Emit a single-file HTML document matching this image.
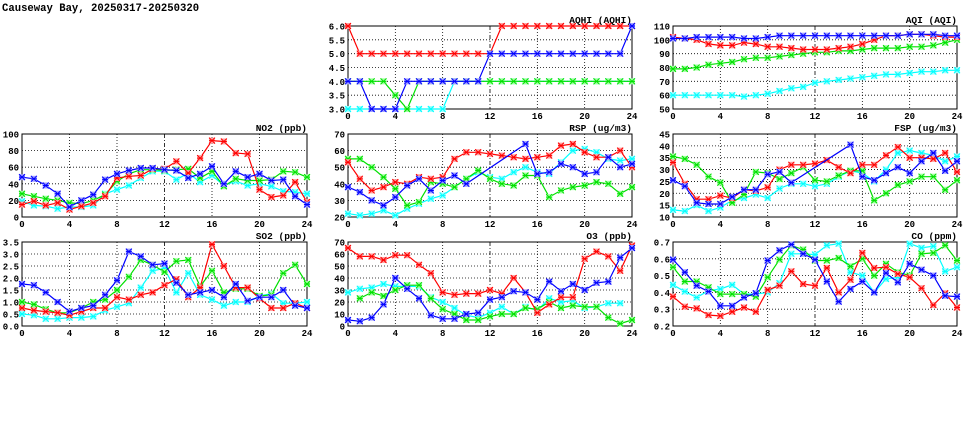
<!DOCTYPE html>
<html><head><meta charset="utf-8"><style>
body{margin:0;background:#fff;width:975px;height:447px;overflow:hidden}
svg{display:block}
text{font-family:"Liberation Mono","DejaVu Sans Mono",monospace;font-weight:bold;fill:#000}
</style></head><body>
<svg id="c" width="975" height="447" xmlns="http://www.w3.org/2000/svg">
<text x="2" y="11" font-size="10.6">Causeway Bay, 20250317-20250320</text>
</svg>
<script>
const hours = [0,1,2,3,4,5,6,7,8,9,10,11,12,13,14,15,16,17,18,19,20,21,22,23,24];
const xTicks = [0,4,8,12,16,20,24];
const seriesColors = ['#00ffff','#00e000','#ff0000','#0000ff'];
const seriesLight = ['#a0ffff','#a0ffa0','#ffa0a0','#a0a0ff'];
const seriesNames = ['cyan','green','red','blue'];

const aqhiCyan = [3,3,3,3,3,3,3,3,3,4,4,4,4,4,4,4,4,4,4,4,4,4,4,4,4];
const aqhiGreen = [4,4,4,4,3.5,3,4,4,4,4,4,4,4,4,4,4,4,4,4,4,4,4,4,4,4];
const aqhiRed = [6,5,5,5,5,5,5,5,5,5,5,5,5,6,6,6,6,6,6,6,6,6,6,6,6];
const aqhiBlue = [4,4,3,3,3,4,4,4,4,4,4,4,5,5,5,5,5,5,5,5,5,5,5,5,6];
const aqhiTicks = [3.0,3.5,4.0,4.5,5.0,5.5,6.0];

const aqiCyan = [60,60,60,60,60,60,59,60,61,63,65,66,69,70,71,72,73,74,75,75,76,77,77,78,78];
const aqiGreen = [79,79,80,82,83,84,86,87,87,88,89,90,91,91,92,92,93,94,94,94,95,95,96,98,100];
const aqiRed = [102,101,100,97,96,96,98,97,95,95,94,93,93,93,94,95,97,100,103,103,104,104,103,102,102];
const aqiBlue = [101,101,102,102,102,102,101,101,102,103,103,103,103,103,103,103,103,103,103,103,104,104,104,103,103];
const aqiTicks = [50,60,70,80,90,100,110];

const no2Cyan = [19,14,13,10,12,12,14,28,33,38,47,55,55,45,53,42,50,38,43,38,40,37,31,30,28];
const no2Green = [28,25,22,20,17,16,20,27,43,52,57,57,56,57,58,47,55,37,46,44,44,45,55,54,48];
const no2Red = [15,19,14,17,9,13,17,25,47,49,50,58,58,67,53,71,92,91,77,76,33,24,26,42,18];
const no2Blue = [48,46,38,28,12,20,27,45,52,56,59,59,57,56,47,52,61,40,55,48,52,44,45,25,15];
const no2Ticks = [0,20,40,60,80,100];

const rspCyan = [22,21,22,24,21,25,28,31,33,38,43,47,44,43,47,50,47,46,53,60,61,59,55,54,55];
const rspGreen = [55,55,50,44,37,27,29,41,40,38,43,48,43,40,39,45,45,32,36,38,39,41,40,34,38];
const rspRed = [53,43,36,38,41,40,44,43,44,55,59,59,58,57,56,55,56,57,63,64,59,56,56,60,50];
const rspBlue = [38,35,30,27,32,39,43,36,42,45,40,null,null,null,null,64,46,47,52,50,46,47,56,50,52];
const rspTicks = [20,30,40,50,60,70];

const fspCyan = [13,12.5,15,12.5,14,17,18,19.5,18,22,24,24,23,24,27,29.5,28.5,25,30,37,38,37,36,33.5,35.5];
const fspGreen = [35.5,34.5,32,27,24.5,16,19.5,29,28.5,26,28.5,31,25.5,25,27.5,29.5,29.5,17,20,23.5,25,27,27,21.5,25.5];
const fspRed = [33,24,17.5,17.5,19,18,21.5,21,22.5,30,32,32,32.5,34,31,28.5,32,32,36,39.5,35,35,34.5,37,29];
const fspBlue = [25.5,23,16,15.5,15.5,18.5,21.5,21.5,28,29,24.5,null,null,null,null,40.5,27,25.5,28.5,31,28.5,33.5,37,29.5,33.5];
const fspTicks = [10,15,20,25,30,35,40,45];

const so2Cyan = [0.5,0.45,0.3,0.3,0.35,0.35,0.4,0.65,0.8,0.95,1.6,2.3,2.4,1.4,2.2,1.3,1.1,0.85,1.0,1.0,1.25,1.35,0.95,0.95,1.0];
const so2Green = [1.0,0.9,0.7,0.55,0.55,0.75,1.0,1.1,1.5,2.05,2.75,2.55,2.25,2.7,2.75,1.65,2.3,1.4,1.55,1.55,1.25,1.3,2.2,2.55,1.75];
const so2Red = [0.75,0.65,0.6,0.55,0.45,0.6,0.75,0.75,1.2,1.1,1.3,1.4,1.7,1.95,1.2,1.6,3.4,2.5,1.6,1.6,1.15,0.75,0.75,0.95,0.75];
const so2Blue = [1.75,1.7,1.4,1.0,0.6,0.75,0.85,1.3,1.9,3.1,2.9,2.55,2.6,1.8,1.3,1.4,1.5,1.2,1.75,1.05,1.2,1.2,1.5,0.85,0.75];
const so2Ticks = [0.0,0.5,1.0,1.5,2.0,2.5,3.0,3.5];

const o3Cyan = [28,31,32,35,33,33,33,24,20,15,9,7,11,16,10,16,13,23,20,21,15,16,19,19,null];
const o3Green = [null,23,28,25,30,34,34,23,14,10,5,5,8,10,10,15,14,20,15,17,16,16,7,2,5];
const o3Red = [65,58,58,55,59,59,51,44,28,26,27,27,30,27,40,28,11,18,24,24,56,62,58,46,67];
const o3Blue = [5,4,7,18,40,31,23,9,6,6,10,11,22,24,29,28,22,37,29,35,30,36,37,57,65];
const o3Ticks = [0,10,20,30,40,50,60,70];

const coCyan = [0.445,0.405,0.37,0.41,0.42,0.445,0.39,0.39,0.40,0.455,0.63,0.63,0.625,0.68,0.69,0.52,0.50,0.40,0.48,0.49,0.69,0.665,0.675,0.525,0.55];
const coGreen = [0.55,0.465,0.465,0.43,0.39,0.39,0.39,0.375,0.49,0.595,0.68,0.655,0.59,0.59,0.605,0.555,0.60,0.50,0.57,0.52,0.50,0.63,0.635,0.68,0.59];
const coRed = [0.375,0.315,0.305,0.265,0.26,0.285,0.31,0.285,0.415,0.44,0.525,0.45,0.44,0.545,0.4,0.475,0.635,0.545,0.55,0.51,0.49,0.425,0.325,0.395,0.31];
const coBlue = [0.595,0.52,0.44,0.405,0.32,0.32,0.37,0.395,0.59,0.65,0.685,0.63,0.595,0.465,0.345,0.42,0.465,0.40,0.515,0.46,0.57,0.535,0.50,0.38,0.375];
const coTicks = [0.2,0.3,0.4,0.5,0.6,0.7];

const NS = 'http://www.w3.org/2000/svg';
const svg = document.getElementById('c');
function mk(tag, attrs, parent){
  const e = document.createElementNS(NS, tag);
  for (const k in attrs) e.setAttribute(k, attrs[k]);
  (parent||svg).appendChild(e);
  return e;
}
const cols = [[22,307],[348,632],[673,957]];
const rows = [[26,109],[134,217],[242,326]];

function panel(name, title, col, row, ticks, dec, series){
  const [x0,x1] = cols[col], [y0,y1] = rows[row];
  const ymin = ticks[0], ymax = ticks[ticks.length-1];
  const sx = v => x0 + (v-0)/(24-0)*(x1-x0);
  const sy = v => y1 - (v-ymin)/(ymax-ymin)*(y1-y0);
  const g = mk('g', {});
  
  
  ticks.forEach(t => {
    const y = sy(t);
    if (t!==ymin && t!==ymax) {
      const l = mk('line', {x1:x0,x2:x1,y1:y,y2:y,stroke:'#000','stroke-width':0.8,'stroke-dasharray':'1,2'}, g);
      
      
    }
    const tx = mk('text', {x:x0-3,y:y+3.5,'font-size':9,'text-anchor':'end'}, g);
    tx.textContent = t.toFixed(dec);
    
    
  });
  xTicks.forEach(t => {
    const x = sx(t);
    if (t!==0 && t!==24) {
      const l = mk('line', {x1:x,x2:x,y1:y0,y2:y1,stroke:'#000','stroke-width':0.8,'stroke-dasharray': t===12?'4,2,1,2':'1,2'}, g);
      
      
    }
    const tx = mk('text', {x:x,y:y1+10,'font-size':9,'text-anchor':'middle'}, g);
    tx.textContent = t;
    
    
  });
  const fr = mk('rect', {x:x0,y:y0,width:x1-x0,height:y1-y0,fill:'none',stroke:'#000','stroke-width':1}, g);
  
  
  const tt = mk('text', {x:x1,y:y0-3,'font-size':9.5,'text-anchor':'end'}, g);
  tt.textContent = title;
  
  
  series.forEach((vals, si) => {
    const pts = [];
    vals.forEach((v,i) => { if (v!==null) pts.push([sx(hours[i]), sy(v)]); });
    const pl = mk('polyline', {points: pts.map(p=>p[0].toFixed(1)+','+p[1].toFixed(1)).join(' '), fill:'none', stroke:seriesColors[si], 'stroke-width':1.2}, g);
    
    
    pts.forEach(p => {
      const [px,py] = p;
      const m = mk('rect', {x:px-3,y:py-3,width:6,height:6,fill:seriesLight[si],stroke:'none'}, g);
      
      
      mk('path', {d:`M${px-3},${py-3}L${px+3},${py+3}M${px-3},${py+3}L${px+3},${py-3}M${px-3},${py}L${px+3},${py}`, stroke:seriesColors[si], 'stroke-width':1, fill:'none'}, g);
    });
  });
}
panel('aqhi','AQHI (AQHI)',1,0,aqhiTicks,1,[aqhiCyan,aqhiGreen,aqhiRed,aqhiBlue]);
panel('aqi','AQI (AQI)',2,0,aqiTicks,0,[aqiCyan,aqiGreen,aqiRed,aqiBlue]);
panel('no2','NO2 (ppb)',0,1,no2Ticks,0,[no2Cyan,no2Green,no2Red,no2Blue]);
panel('rsp','RSP (ug/m3)',1,1,rspTicks,0,[rspCyan,rspGreen,rspRed,rspBlue]);
panel('fsp','FSP (ug/m3)',2,1,fspTicks,0,[fspCyan,fspGreen,fspRed,fspBlue]);
panel('so2','SO2 (ppb)',0,2,so2Ticks,1,[so2Cyan,so2Green,so2Red,so2Blue]);
panel('o3','O3 (ppb)',1,2,o3Ticks,0,[o3Cyan,o3Green,o3Red,o3Blue]);
panel('co','CO (ppm)',2,2,coTicks,1,[coCyan,coGreen,coRed,coBlue]);
</script>
</body></html>
